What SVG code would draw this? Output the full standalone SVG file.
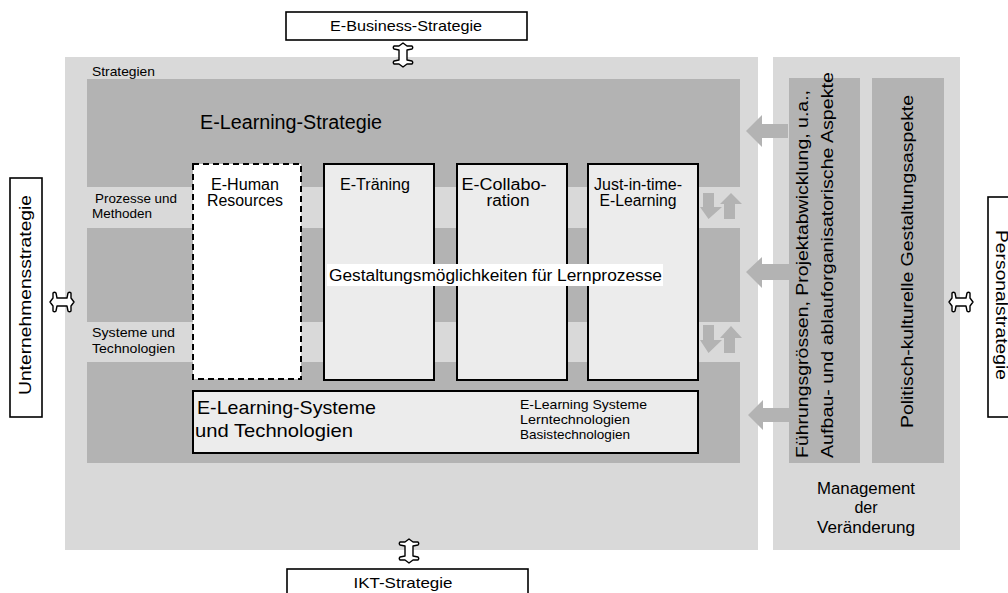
<svg xmlns="http://www.w3.org/2000/svg" width="1008" height="593" viewBox="0 0 1008 593">
<style>
.t{font-family:"Liberation Sans",Arial,sans-serif;fill:#000}
.panel{fill:#d9d9d9}
.dark{fill:#b3b3b3}
.box{fill:#ececec;stroke:#000;stroke-width:2}
.wbox{fill:#fff;stroke:#000;stroke-width:1.6}
.arr{fill:#b3b3b3}
.dbl{fill:#fff;stroke:#000;stroke-width:1.4;stroke-linejoin:round}
</style>
<defs>
<path id="dblv" class="dbl" d="M0,-12 L4,-9 L9,-9 Q10.5,-7.5 9,-6 L4,-5 L4,5 L9,6 Q10.5,7.5 9,9 L4,9 L0,12 L-4,9 L-9,9 Q-10.5,7.5 -9,6 L-4,5 L-4,-5 L-9,-6 Q-10.5,-7.5 -9,-9 L-4,-9 Z"/>
</defs>
<rect width="1008" height="593" fill="#fff"/>

<g id="strategien">
<rect class="panel" x="65" y="57" width="693" height="493"/>
<rect class="dark" x="87" y="79" width="653" height="108"/>
<rect class="dark" x="87" y="228" width="653" height="94"/>
<rect class="dark" x="87" y="362" width="653" height="101"/>
<text class="t" x="92" y="76" font-size="13" textLength="63" lengthAdjust="spacingAndGlyphs">Strategien</text>
<text class="t" x="200" y="129" font-size="20" textLength="182" lengthAdjust="spacingAndGlyphs">E-Learning-Strategie</text>
<text class="t" x="95" y="203" font-size="13" textLength="82" lengthAdjust="spacingAndGlyphs">Prozesse und</text>
<text class="t" x="92" y="218" font-size="13" textLength="60" lengthAdjust="spacingAndGlyphs">Methoden</text>
<text class="t" x="92" y="337" font-size="13" textLength="83" lengthAdjust="spacingAndGlyphs">Systeme und</text>
<text class="t" x="92" y="353" font-size="13" textLength="83" lengthAdjust="spacingAndGlyphs">Technologien</text>
</g>

<g id="management">
<rect class="panel" x="773" y="57" width="187" height="493"/>
<rect class="dark" x="789" y="78" width="71" height="385"/>
<rect class="dark" x="872" y="78" width="72" height="385"/>
<text class="t" transform="translate(808,458) rotate(-90)" font-size="16" textLength="368" lengthAdjust="spacingAndGlyphs">Führungsgrössen, Projektabwicklung, u.a.,</text>
<text class="t" transform="translate(833,458) rotate(-90)" font-size="16" textLength="386" lengthAdjust="spacingAndGlyphs">Aufbau- und ablauforganisatorische Aspekte</text>
<text class="t" transform="translate(913,428) rotate(-90)" font-size="16" textLength="333" lengthAdjust="spacingAndGlyphs">Politisch-kulturelle Gestaltungsaspekte</text>
<text class="t" x="866" y="494" font-size="16" text-anchor="middle" textLength="98" lengthAdjust="spacingAndGlyphs">Management</text>
<text class="t" x="866" y="513" font-size="16" text-anchor="middle">der</text>
<text class="t" x="866" y="533" font-size="16" text-anchor="middle" textLength="98" lengthAdjust="spacingAndGlyphs">Veränderung</text>
</g>

<g id="e-human-resources">
<rect x="193" y="164" width="108" height="215" fill="#fff" stroke="#000" stroke-width="2" stroke-dasharray="6,4"/>
<text class="t" x="245" y="190" font-size="16" text-anchor="middle" textLength="68" lengthAdjust="spacingAndGlyphs">E-Human</text>
<text class="t" x="245" y="206" font-size="16" text-anchor="middle" textLength="76" lengthAdjust="spacingAndGlyphs">Resources</text>
</g>
<g id="e-training">
<rect class="box" x="324" y="164" width="110" height="216"/>
<text class="t" x="375" y="190" font-size="16" text-anchor="middle" textLength="70" lengthAdjust="spacingAndGlyphs">E-Träning</text>
</g>
<g id="e-collaboration">
<rect class="box" x="457" y="164" width="110" height="216"/>
<text class="t" x="504" y="190" font-size="16" text-anchor="middle" textLength="85" lengthAdjust="spacingAndGlyphs">E-Collabo-</text>
<text class="t" x="508" y="206" font-size="16" text-anchor="middle" textLength="43" lengthAdjust="spacingAndGlyphs">ration</text>
</g>
<g id="just-in-time">
<rect class="box" x="588" y="164" width="110" height="216"/>
<text class="t" x="638" y="190" font-size="16" text-anchor="middle" textLength="88" lengthAdjust="spacingAndGlyphs">Just-in-time-</text>
<text class="t" x="638" y="206" font-size="16" text-anchor="middle" textLength="77" lengthAdjust="spacingAndGlyphs">E-Learning</text>
</g>
<g id="gestaltung">
<rect x="327" y="264" width="336" height="22" fill="#fff"/>
<text class="t" x="329" y="281" font-size="16" textLength="333" lengthAdjust="spacingAndGlyphs">Gestaltungsmöglichkeiten für Lernprozesse</text>
</g>
<g id="e-learning-systeme">
<rect class="box" x="193" y="391" width="505" height="62"/>
<text class="t" x="197" y="414" font-size="19" textLength="179" lengthAdjust="spacingAndGlyphs">E-Learning-Systeme</text>
<text class="t" x="195" y="437" font-size="19" textLength="158" lengthAdjust="spacingAndGlyphs">und Technologien</text>
<text class="t" x="520" y="409" font-size="13" textLength="127" lengthAdjust="spacingAndGlyphs">E-Learning Systeme</text>
<text class="t" x="520" y="424" font-size="13" textLength="110" lengthAdjust="spacingAndGlyphs">Lerntechnologien</text>
<text class="t" x="520" y="439" font-size="13" textLength="110" lengthAdjust="spacingAndGlyphs">Basistechnologien</text>
</g>

<g id="e-business-strategie">
<rect class="wbox" x="286" y="12" width="241" height="28"/>
<text class="t" x="406" y="31" font-size="15" text-anchor="middle" textLength="152" lengthAdjust="spacingAndGlyphs">E-Business-Strategie</text>
</g>
<g id="ikt-strategie">
<rect class="wbox" x="287" y="569" width="241" height="30"/>
<text class="t" x="403" y="588" font-size="15" text-anchor="middle" textLength="99" lengthAdjust="spacingAndGlyphs">IKT-Strategie</text>
</g>
<g id="unternehmensstrategie">
<rect class="wbox" x="10" y="178" width="32" height="239"/>
<text class="t" transform="translate(31,295) rotate(-90)" font-size="17" text-anchor="middle" textLength="200" lengthAdjust="spacingAndGlyphs">Unternehmensstrategie</text>
</g>
<g id="personalstrategie">
<rect class="wbox" x="988" y="197" width="34" height="220"/>
<text class="t" transform="translate(996,305) rotate(90)" font-size="16" text-anchor="middle" textLength="150" lengthAdjust="spacingAndGlyphs">Personalstrategie</text>
</g>

<g id="connectors">
<use href="#dblv" transform="translate(403,55)"/>
<use href="#dblv" transform="translate(409,551)"/>
<use href="#dblv" transform="translate(62,302) rotate(90)"/>
<use href="#dblv" transform="translate(961,302) rotate(90)"/>
<path class="arr" d="M746,131 L762,115 L762,124 L788,124 L788,138 L762,138 L762,147 Z"/>
<path class="arr" d="M746,272 L762,257 L762,264 L790,264 L790,280 L762,280 L762,288 Z"/>
<path class="arr" d="M748,415 L763,400 L763,408 L790,408 L790,422 L763,422 L763,430 Z"/>
<path class="arr" d="M703,193 L714,193 L714,207 L722,207 L708.5,219 L700,207 L703,207 Z"/>
<path class="arr" d="M731,193 L742,204 L735,204 L735,219 L724,219 L724,204 L720,204 Z"/>
<path class="arr" d="M703,325 L714,325 L714,340 L722,340 L708.5,353 L700,340 L703,340 Z"/>
<path class="arr" d="M731,326 L742,338 L735,338 L735,353 L724,353 L724,338 L720,338 Z"/>
</g>
</svg>
